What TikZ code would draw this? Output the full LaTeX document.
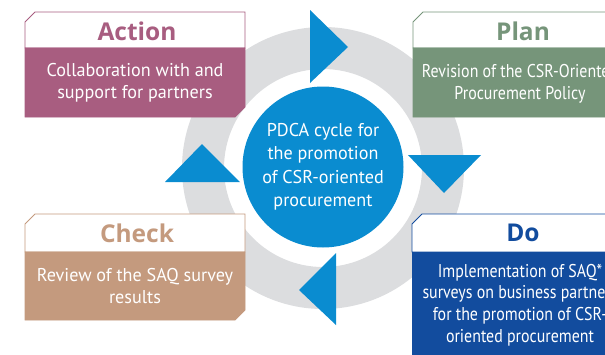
\documentclass[tikz,border=0pt]{standalone}
\usepackage{fontspec}
\setmainfont{PT Sans}[FakeStretch=0.98]
\newfontfamily\narrowfont{PT Sans}[FakeStretch=0.86]
\newfontfamily\titlefont{Open Sans}
\definecolor{ringgray}{HTML}{DCDDDF}
\definecolor{pdcablue}{HTML}{0A8CD0}
\definecolor{actcol}{HTML}{A85D80}
\definecolor{plancol}{HTML}{76957A}
\definecolor{checkcol}{HTML}{C49A7E}
\definecolor{docol}{HTML}{124C9E}
\tikzset{
  titletext/.style={font=\titlefont\bfseries\fontsize{24.5}{26}\selectfont, anchor=center},
  bodytext/.style={font=\fontsize{18.5}{22.5}\selectfont, text=white, align=center, anchor=center},
  narrowtext/.style={font=\narrowfont\fontsize{18.5}{21.7}\selectfont, text=white, align=center, anchor=center},
  tri/.style={fill=pdcablue},
}
\begin{document}
\begin{tikzpicture}[x=1pt,y=-1pt]
\useasboundingbox (0,0) rectangle (605,354);
\clip (0,0) rectangle (605,354);
% ring
\fill[ringgray, even odd rule] (323,168) circle (141) (323,168) circle (99);
% center circle
\node[circle, fill=pdcablue, minimum size=161pt, inner sep=0pt, text=white, align=center,
      font=\fontsize{18.5}{23.5}\selectfont] (center) at (323,167)
  {PDCA cycle for\\the promotion\\of CSR-oriented\\procurement};
% triangles
\fill[tri] (310,10) -- (348,47) -- (310,83) -- cycle;
\fill[tri] (408,155) -- (481,155) -- (444,193) -- cycle;
\fill[tri] (336,253) -- (336,325) -- (299,290) -- cycle;
\fill[tri] (165,182) -- (240,182) -- (202,144) -- cycle;
% Action box
\filldraw[draw=actcol, fill=white, line width=0.8pt] (25,22) -- (35,12) -- (245,12) -- (245,48) -- (25,48) -- cycle;
\filldraw[draw=actcol, fill=actcol, line width=0.8pt] (25,48) -- (245,48) -- (245,107) -- (235,117) -- (25,117) -- cycle;
\node[titletext, text=actcol] (acttitle) at (137,31) {Action};
\node[bodytext] (actbody) at (135,83) {Collaboration with and\\support for partners};
% Plan box
\filldraw[draw=plancol, fill=white, line width=0.8pt] (413,22) -- (423,12) -- (633,12) -- (633,48) -- (413,48) -- cycle;
\filldraw[draw=plancol, fill=plancol, line width=0.8pt] (413,48) -- (633,48) -- (633,107) -- (623,117) -- (413,117) -- cycle;
\node[titletext, text=plancol] (plantitle) at (523,31) {Plan};
\node[narrowtext] (planbody) at (520,84) {Revision of the CSR-Oriented\\Procurement Policy};
% Check box
\filldraw[draw=checkcol, fill=white, line width=0.8pt] (25,224) -- (35,214) -- (245,214) -- (245,252) -- (25,252) -- cycle;
\filldraw[draw=checkcol, fill=checkcol, line width=0.8pt] (25,252) -- (245,252) -- (245,310) -- (235,320) -- (25,320) -- cycle;
\node[titletext, text=checkcol] (checktitle) at (137,233) {Check};
\node[bodytext] (checkbody) at (135,286) {Review of the SAQ survey\\results};
% Do box
\filldraw[draw=docol, fill=white, line width=0.8pt] (412,224) -- (422,214) -- (632,214) -- (632,252) -- (412,252) -- cycle;
\filldraw[draw=docol, fill=docol, line width=0.8pt] (412,252) -- (632,252) -- (632,380) -- (412,380) -- cycle;
\node[titletext, text=docol] (dotitle) at (523,233) {Do};
\node[narrowtext] (dobody) at (520,305) {Implementation of SAQ*\\surveys on business partners\\for the promotion of CSR-\\oriented procurement};
\end{tikzpicture}
\end{document}
